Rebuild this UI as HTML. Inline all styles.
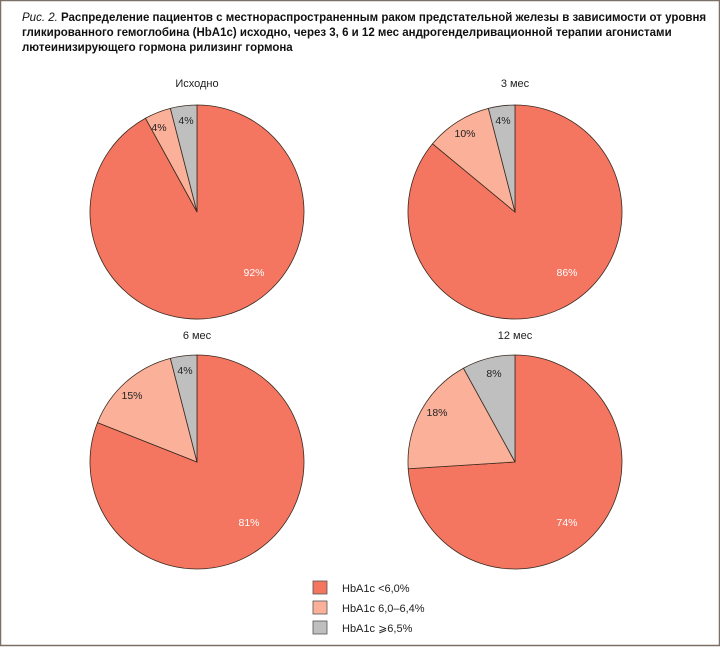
<!DOCTYPE html>
<html><head><meta charset="utf-8"><style>
body{margin:0;background:#fff}
svg{display:block}
text{font-family:"Liberation Sans",sans-serif}
</style></head><body>
<svg width="720" height="648" viewBox="0 0 720 648" xmlns="http://www.w3.org/2000/svg">
<rect x="0.5" y="0.5" width="719" height="645" fill="#fff" stroke="#7a7068" stroke-width="1.5"/>
<text font-size="11.5" fill="#111"><tspan x="22" y="21" font-style="italic">Рис. 2.</tspan><tspan font-weight="bold"> Распределение пациентов с местнораспространенным раком предстательной железы в зависимости от уровня</tspan></text>
<text x="22" y="36" font-size="11.5" font-weight="bold" fill="#111">гликированного гемоглобина (HbA1c) исходно, через 3, 6 и 12 мес андрогенделривационной терапии агонистами</text>
<text x="22" y="51" font-size="11.5" font-weight="bold" fill="#111">лютеинизирующего гормона рилизинг гормона</text>
<g id="pies" stroke="#3a2a20" stroke-width="0.8"></g>
<g font-size="11" fill="#222" text-anchor="middle">
<text x="197" y="87">Исходно</text><text x="515" y="87">3 мес</text>
<text x="197" y="339">6 мес</text><text x="515" y="339">12 мес</text>
</g>
<g font-size="10.5" text-anchor="middle">
<text x="254" y="276" fill="#fff">92%</text><text x="159" y="131" fill="#222">4%</text><text x="186" y="124" fill="#222">4%</text>
<text x="567" y="276" fill="#fff">86%</text><text x="465" y="137" fill="#222">10%</text><text x="503" y="124" fill="#222">4%</text>
<text x="249" y="526" fill="#fff">81%</text><text x="132" y="399" fill="#222">15%</text><text x="185" y="374" fill="#222">4%</text>
<text x="567" y="526" fill="#fff">74%</text><text x="437" y="416" fill="#222">18%</text><text x="494" y="377" fill="#222">8%</text>
</g>
<g stroke="#555" stroke-width="0.8">
<rect x="313" y="581" width="14" height="13" fill="#f47560"/>
<rect x="313" y="601" width="14" height="13" fill="#fbb09a"/>
<rect x="313" y="621" width="14" height="13" fill="#bfbfbf"/>
</g>
<g font-size="11" fill="#222">
<text x="342" y="592">HbA1c &lt;6,0%</text>
<text x="342" y="612">HbA1c 6,0–6,4%</text>
<text x="342" y="632">HbA1c ⩾6,5%</text>
</g>
</svg>
<script>
(function(){
var g=document.getElementById('pies');
var pies=[[197,212,[92,4,4]],[515,212,[86,10,4]],[197,462,[81,15,4]],[515,462,[74,18,8]]];
var cols=['#f47560','#fbb09a','#bfbfbf'];var r=107;
pies.forEach(function(p){
 var a=0;
 p[2].forEach(function(v,i){
  var a0=a/100*2*Math.PI,a1=(a+v)/100*2*Math.PI;a+=v;
  var x0=p[0]+r*Math.sin(a0),y0=p[1]-r*Math.cos(a0),x1=p[0]+r*Math.sin(a1),y1=p[1]-r*Math.cos(a1);
  var el=document.createElementNS('http://www.w3.org/2000/svg','path');
  el.setAttribute('d','M'+p[0]+' '+p[1]+'L'+x0+' '+y0+'A'+r+' '+r+' 0 '+(v>50?1:0)+' 1 '+x1+' '+y1+'Z');
  el.setAttribute('fill',cols[i]);g.appendChild(el);
 });
});
})();
</script>
</body></html>
